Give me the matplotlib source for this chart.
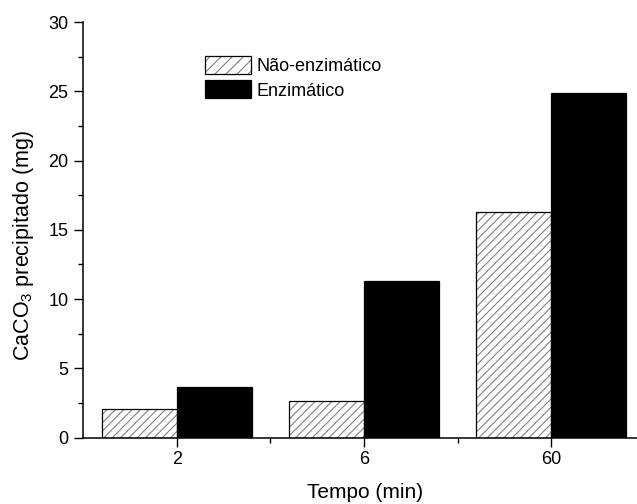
import matplotlib
matplotlib.use('Agg')
import matplotlib.pyplot as plt
import numpy as np
from matplotlib.patches import Patch
from matplotlib.legend_handler import HandlerTuple
from matplotlib.ticker import MultipleLocator, FixedLocator

# ---- data ----
categories = ['2', '6', '60']
nao_enzimatico = [2.05, 2.65, 16.3]
enzimatico = [3.65, 11.3, 24.85]
series_labels = ['Não-enzimático', 'Enzimático']
x_label = 'Tempo (min)'
y_label = r'CaCO$_3$ precipitado (mg)'

plt.rcParams['font.family'] = ['Liberation Sans', 'DejaVu Sans']
plt.rcParams['mathtext.fontset'] = 'custom'
plt.rcParams['mathtext.rm'] = 'Liberation Sans'
plt.rcParams['mathtext.it'] = 'Liberation Sans:italic'
plt.rcParams['mathtext.bf'] = 'Liberation Sans:bold'
plt.rcParams['hatch.linewidth'] = 0.8

W, H = 637, 504
fig = plt.figure(figsize=(W / 100, H / 100), dpi=100)
ax = fig.add_axes([83 / W, (H - 437.5) / H, 562 / W, 415.5 / H])

x = np.arange(1, len(categories) + 1)
w = 0.4
hatch_color = '#808080'
hatch = '////'

ax.bar(x - w / 2, nao_enzimatico, w, color='white', edgecolor=hatch_color,
       hatch=hatch, linewidth=0)
ax.bar(x - w / 2, nao_enzimatico, w, fill=False, edgecolor='black', linewidth=0.9)
ax.bar(x + w / 2, enzimatico, w, color='black', edgecolor='black', linewidth=0.9)

ax.set_xlim(0.5, 3.5)
ax.set_ylim(0, 30)
ax.set_xticks(x)
ax.set_xticklabels(categories)
ax.xaxis.set_minor_locator(FixedLocator([1.5, 2.5]))
ax.yaxis.set_major_locator(MultipleLocator(5))
ax.yaxis.set_minor_locator(MultipleLocator(2.5))

ax.tick_params(which='major', direction='out', length=6.5, width=1.0,
               labelsize=13, pad=3, colors='black')
ax.tick_params(axis='y', which='major', pad=4)
ax.tick_params(which='minor', direction='out', length=3.5, width=1.0)
for s in ['top', 'right']:
    ax.spines[s].set_visible(False)
for s in ['left', 'bottom']:
    ax.spines[s].set_linewidth(1.1)

h1 = (Patch(facecolor='white', edgecolor=hatch_color, hatch='///', linewidth=0),
      Patch(facecolor='none', edgecolor='black', linewidth=0.9))
h2 = Patch(facecolor='black', edgecolor='black', linewidth=0.9)
ax.legend([h1, h2], series_labels,
          handler_map={tuple: HandlerTuple(ndivide=1, pad=0)},
          loc='upper left', bbox_to_anchor=(205 / W, 1 - 56 / H),
          bbox_transform=fig.transFigure, frameon=False, fontsize=13,
          handlelength=2.55, handleheight=1.15, handletextpad=0.28,
          labelspacing=0.3, borderpad=0, borderaxespad=0)

fig.text(365 / W, 1 - 493 / H, x_label, ha='center', va='center', fontsize=15)
fig.text(24 / W, 1 - 246 / H, y_label, rotation=90, ha='center', va='center',
         fontsize=15.5)

fig.savefig('out.png', dpi=100)
